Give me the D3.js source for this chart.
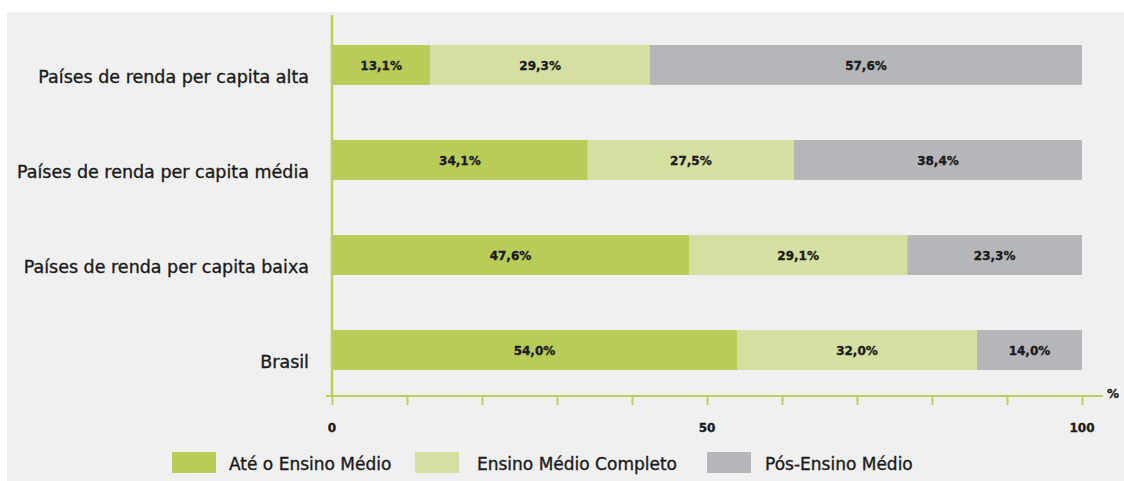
<!DOCTYPE html>
<html>
<head>
<meta charset="utf-8">
<script src="https://cdn.jsdelivr.net/npm/d3@7"></script>
<style>
  html, body { margin: 0; padding: 0; background: #ffffff; }
  svg { display: block; }
  .heavy { stroke: #1a1a1a; stroke-width: 0.35px; paint-order: stroke; }
</style>
</head>
<body>
<svg id="chart" width="1124" height="481"></svg>
<script>
// Distribution of schooling levels by country income group (%)
const categories = [
  "Países de renda per capita alta",
  "Países de renda per capita média",
  "Países de renda per capita baixa",
  "Brasil"
];
const seriesNames = ["Até o Ensino Médio", "Ensino Médio Completo", "Pós-Ensino Médio"];
const ateMedio      = [13.1, 34.1, 47.6, 54.0];
const medioCompleto = [29.3, 27.5, 29.1, 32.0];
const posMedio      = [57.6, 38.4, 23.3, 14.0];
const tickValues = [0, 10, 20, 30, 40, 50, 60, 70, 80, 90, 100];
const tickLabels = ["0", "50", "100"];

const colors = ["#b9cc58", "#d4dfa1", "#b5b6b9"];
const axisColor = "#bccf5a";
const font = "'DejaVu Sans', sans-serif";
const textColor = "#1a1a1a";

const svg = d3.select("#chart");

// panel background
svg.append("rect").attr("x", 7).attr("y", 12).attr("width", 1117).attr("height", 469).attr("fill", "#f0f0f0");

const x = d3.scaleLinear().domain([0, 100]).range([332, 1082]);
const y = d3.scaleBand().domain(categories).range([45, 370]).paddingInner(0.58).paddingOuter(0);

const stackData = categories.map((c, i) => {
  const o = { cat: c };
  o[seriesNames[0]] = ateMedio[i];
  o[seriesNames[1]] = medioCompleto[i];
  o[seriesNames[2]] = posMedio[i];
  return o;
});
const stacked = d3.stack().keys(seriesNames)(stackData);

const fmt = v => v.toFixed(1).replace(".", ",") + "%";

stacked.forEach((layer, j) => {
  const g = svg.append("g");
  g.selectAll("rect").data(layer).join("rect")
    .attr("x", d => x(d[0]))
    .attr("y", d => y(d.data.cat))
    .attr("width", d => x(d[1]) - x(d[0]))
    .attr("height", y.bandwidth())
    .attr("fill", colors[j]);
  g.selectAll("text").data(layer).join("text")
    .attr("class", "heavy")
    .attr("x", d => (x(d[0]) + x(d[1])) / 2)
    .attr("y", d => y(d.data.cat) + y.bandwidth() / 2 + 1)
    .attr("dy", "0.35em")
    .attr("text-anchor", "middle")
    .attr("font-family", font)
    .attr("font-weight", "bold")
    .attr("font-size", 12)
    .attr("fill", textColor)
    .text(d => fmt(d.data[layer.key]));
});

// category labels, sitting near the bottom of each bar
svg.append("g").selectAll("text").data(categories).join("text")
  .attr("class", "heavy")
  .attr("x", 309)
  .attr("y", d => y(d) + y.bandwidth() - 2)
  .attr("text-anchor", "end")
  .attr("font-family", font)
  .attr("font-size", 17.5)
  .attr("fill", textColor)
  .text(d => d);

// vertical axis line
svg.append("line")
  .attr("x1", x(0)).attr("x2", x(0))
  .attr("y1", 15).attr("y2", 396)
  .attr("stroke", axisColor).attr("stroke-width", 2.5);

// horizontal axis
const axisY = 396;
const xAxis = d3.axisBottom(x).tickValues(tickValues).tickSize(9).tickFormat("");
const ag = svg.append("g").attr("transform", `translate(0,${axisY})`).call(xAxis);
ag.select(".domain").remove();
ag.selectAll(".tick line").attr("stroke", axisColor).attr("stroke-width", 2);
ag.append("line").attr("x1", 326).attr("x2", 1103).attr("y1", 0).attr("y2", 0)
  .attr("stroke", axisColor).attr("stroke-width", 2);

svg.append("g").selectAll("text").data(tickLabels).join("text")
  .attr("class", "heavy")
  .attr("x", d => x(+d))
  .attr("y", 432)
  .attr("text-anchor", "middle")
  .attr("font-family", font)
  .attr("font-weight", "bold")
  .attr("font-size", 12)
  .attr("fill", textColor)
  .text(d => d);

svg.append("text")
  .attr("class", "heavy")
  .attr("x", 1113).attr("y", 398)
  .attr("text-anchor", "middle")
  .attr("font-family", font).attr("font-weight", "bold").attr("font-size", 12)
  .attr("fill", textColor)
  .text("%");

// legend
const legendX = [172, 415, 707];
const legendTextX = [229, 477, 765];
const lg = svg.append("g");
seriesNames.forEach((s, j) => {
  lg.append("rect").attr("x", legendX[j]).attr("y", 452).attr("width", 44).attr("height", 21).attr("fill", colors[j]);
  lg.append("text")
    .attr("class", "heavy")
    .attr("x", legendTextX[j]).attr("y", 470)
    .attr("font-family", font).attr("font-size", 17).attr("fill", textColor)
    .text(s);
});
</script>
</body>
</html>
